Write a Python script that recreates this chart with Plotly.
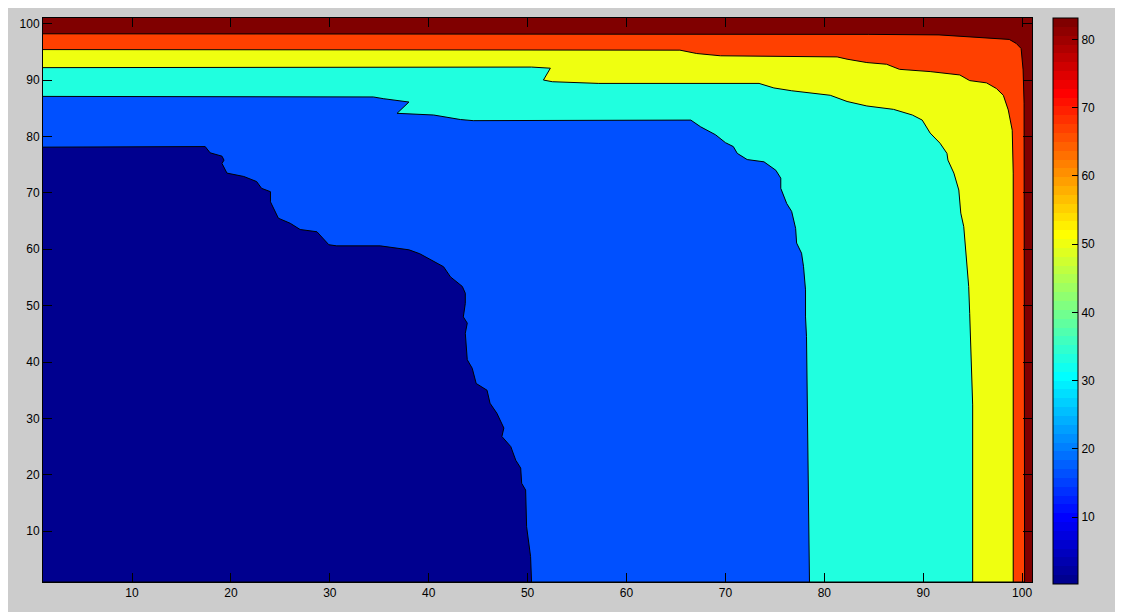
import numpy as np
import plotly.graph_objects as go

# level boundaries (x, y), from left edge down to bottom edge
x_lev1 = [1, 17.4, 17.9, 19.1, 19.3, 19.1, 19.6, 21.3, 22.6, 23.1, 24.0, 24.0, 24.8, 26.0, 27.0,
          28.7, 29.9, 30.7, 35.1, 38.0, 39.1, 41.5, 42.2, 43.4, 43.7, 43.7, 43.5, 43.9, 43.7,
          43.9, 44.4, 44.8, 45.9, 46.2, 46.9, 47.6, 47.4, 48.3, 48.8, 49.3, 49.4, 49.8, 49.9,
          50.3, 50.4]
y_lev1 = [78.1, 78.2, 77.1, 76.5, 75.8, 75.2, 73.5, 72.9, 72.0, 70.8, 70.2, 68.4, 65.5, 64.6, 63.5,
          63.1, 60.8, 60.6, 60.6, 59.9, 59.2, 56.9, 55.1, 53.4, 52.2, 50.4, 48.0, 46.9, 45.1,
          40.4, 38.9, 36.2, 35.0, 32.7, 30.9, 28.3, 26.8, 25.0, 22.6, 21.2, 18.5, 17.3, 10.8,
          5.5, 1]

x_lev2 = [1, 34.4, 35.4, 36.4, 38.0, 36.8, 40.5, 43.2, 44.5, 66.5, 67.5, 69.0, 70.0, 70.8, 71.2,
          72.2, 73.9, 75.1, 75.6, 75.6, 76.2, 76.7, 77.1, 77.2, 77.7, 77.9, 78.1, 78.1, 78.2, 78.5]
y_lev2 = [87.1, 87.0, 86.7, 86.5, 86.1, 84.1, 83.8, 83.0, 82.8, 82.9, 81.7, 80.3, 78.9, 78.2, 77.0,
          75.9, 75.5, 74.0, 72.6, 70.8, 68.1, 66.7, 63.7, 61.1, 59.3, 56.9, 52.8, 48.0, 44.5, 1]

x_lev3 = [1, 50.4, 52.3, 51.6, 52.5, 55.3, 57.2, 73.4, 74.9, 76.7, 80.6, 82.3, 84.3, 87.0, 88.9,
          89.9, 90.7, 91.7, 92.4, 92.5, 93.1, 93.6, 93.8, 94.1, 94.3, 94.4, 94.6, 94.7, 94.8,
          94.9, 95.0, 95.0]
y_lev3 = [92.2, 92.3, 92.1, 90.0, 89.7, 89.6, 89.4, 89.4, 88.6, 88.1, 87.3, 86.2, 85.4, 84.8, 83.8,
          82.9, 80.6, 78.8, 77.0, 75.8, 73.5, 70.5, 66.4, 64.0, 59.6, 56.3, 53.4, 48.6, 42.4,
          39.5, 32.4, 1]

x_lev4 = [1, 65.4, 67.1, 69.5, 81.3, 82.3, 84.3, 86.3, 87.6, 90.7, 93.7, 94.7, 96.4, 97.4, 98.1,
          98.6, 99.0, 99.1, 99.1]
y_lev4 = [95.4, 95.3, 94.7, 94.3, 94.1, 93.7, 93.1, 92.8, 91.9, 91.5, 90.9, 89.9, 89.5, 88.5, 87.3,
          84.7, 81.1, 73.5, 1]

x_lev5 = [1, 83.5, 84.5, 91.6, 98.7, 99.4, 99.9, 100.1, 100.2, 100.25]
y_lev5 = [98.2, 98.2, 98.1, 98.0, 97.2, 96.5, 95.6, 91.8, 85.9, 1]

x_range = [1, 101]
y_range = [1, 101]
c_range = [0.25, 83.2]
x_ticks = [10, 20, 30, 40, 50, 60, 70, 80, 90, 100]
y_ticks = [10, 20, 30, 40, 50, 60, 70, 80, 90, 100]
c_ticks = [10, 20, 30, 40, 50, 60, 70, 80]

fills = ['#FF4000', '#EFFF10', '#20FFDF', '#0050FF', '#00008F']
top_color = '#800000'


def jet(m=64):
    # matlab jet colormap
    n = int(np.ceil(m / 4))
    u = np.concatenate([np.arange(1, n + 1) / n, np.ones(n - 1), np.arange(n, 0, -1) / n])
    g = int(np.ceil(n / 2)) - (1 if m % 4 == 1 else 0) + np.arange(1, len(u) + 1)
    r = g + n
    b = g - n
    J = np.zeros((m, 3))
    J[r[r <= m] - 1, 0] = u[r <= m]
    J[g[g <= m] - 1, 1] = u[g <= m]
    J[b[b >= 1] - 1, 2] = u[b >= 1]
    return J


cmap = jet(64)
scale = []
for i, c in enumerate(cmap):
    col = 'rgb(%d,%d,%d)' % tuple(np.round(c * 255))
    scale.append([i / 64, col])
    scale.append([(i + 1) / 64, col])

fig = go.Figure()
levels = [(x_lev5, y_lev5), (x_lev4, y_lev4), (x_lev3, y_lev3), (x_lev2, y_lev2), (x_lev1, y_lev1)]
for (lx, ly), col in zip(levels, fills):
    fig.add_trace(go.Scatter(x=lx + [x_range[0]], y=ly + [y_range[0]], fill='toself',
                             fillcolor=col, mode='lines', line=dict(color='black', width=1),
                             hoverinfo='skip', showlegend=False))

# colorbar
fig.add_trace(go.Scatter(x=[None], y=[None], mode='markers', showlegend=False,
                         marker=dict(color=[c_range[0]], colorscale=scale, cmin=c_range[0],
                                     cmax=c_range[1], showscale=True,
                                     colorbar=dict(x=1.0212, xanchor='left', y=-0.003, yanchor='bottom',
                                                   lenmode='pixels', len=566, thickness=25,
                                                   thicknessmode='pixels', xpad=0, ypad=0,
                                                   outlinewidth=1, outlinecolor='black',
                                                   tickvals=c_ticks, ticks='inside', ticklen=6,
                                                   tickcolor='black',
                                                   tickfont=dict(size=12, color='black')))))

axis_style = dict(showgrid=False, zeroline=False, ticks='inside', ticklen=9, tickcolor='black',
                  showline=True, linecolor='black', linewidth=1, mirror='ticks',
                  tickfont=dict(size=12, color='black'))
fig.update_xaxes(range=x_range, tickvals=x_ticks, **axis_style)
fig.update_yaxes(range=y_range, tickvals=y_ticks, **axis_style)

# page body has an 8px margin, so the margins are shifted to match
fig.update_layout(width=1123, height=612, margin=dict(l=35, r=99, t=10, b=38),
                  paper_bgcolor='#CCCCCC', plot_bgcolor=top_color,
                  font=dict(family='Liberation Sans, Arial, sans-serif'))

fig.write_html("out.html")
